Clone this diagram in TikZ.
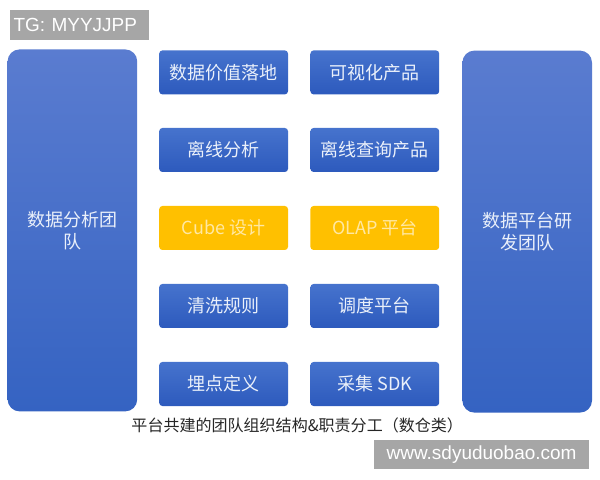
\documentclass[tikz,border=0pt]{standalone}
\usepackage{fontspec}
\setmainfont{Noto Sans CJK SC}
\newfontfamily\wmfont{Liberation Sans}
\usepackage{xcolor}
\definecolor{teamtop}{HTML}{5A7CD0}
\definecolor{teambot}{HTML}{3563C2}
\definecolor{boxtop}{HTML}{4673CD}
\definecolor{boxbot}{HTML}{2D5ABD}
\definecolor{cubeyellow}{HTML}{FFC000}
\definecolor{cubetext}{HTML}{FFE8A3}
\definecolor{boxtext}{HTML}{EAF0FA}
\definecolor{wmgray}{HTML}{A6A6A6}
\definecolor{captext}{HTML}{262626}

\begin{document}
\begin{tikzpicture}[
  team/.style={rectangle, rounded corners=0.3cm, top color=teamtop, bottom color=teambot, draw=none, minimum width=3.24cm, minimum height=9.05cm, text=boxtext, align=center, font=\fontsize{12.8}{15.5}\selectfont},
  task/.style={rectangle, rounded corners=0.08cm, top color=boxtop, bottom color=boxbot, draw=none, minimum width=3.22cm, minimum height=1.1cm, text=boxtext, font=\fontsize{12.8}{15}\selectfont},
  core/.style={rectangle, rounded corners=0.08cm, fill=cubeyellow, draw=none, minimum width=3.22cm, minimum height=1.1cm, text=cubetext, font=\fontsize{12.8}{15}\selectfont},
  wmark/.style={rectangle, fill=wmgray, text=white, inner sep=0pt, font=\wmfont\fontsize{13.5}{15}\selectfont}
]
\useasboundingbox (0,0) rectangle (15,12);
\node[team] (ana) at (1.81,6.24) {数据分析团\\队};
\node[team] (plat) at (13.18,6.21) {数据平台研\\发团队};
\node[task] (value) at (5.59,10.19) {数据价值落地};
\node[task] (vis) at (9.37,10.19) {可视化产品};
\node[task] (offline) at (5.59,8.25) {离线分析};
\node[task] (query) at (9.37,8.25) {离线查询产品};
\node[core] (cube) at (5.59,6.3) {Cube 设计};
\node[core] (olap) at (9.37,6.3) {OLAP 平台};
\node[task] (clean) at (5.59,4.35) {清洗规则};
\node[task] (sched) at (9.37,4.35) {调度平台};
\node[task] (track) at (5.59,2.4) {埋点定义};
\node[task] (sdk) at (9.37,2.4) {采集 SDK};
\node[text=captext, font=\fontsize{11.4}{14}\selectfont] (cap) at (7.43,1.37) {平台共建的团队组织结构\&职责分工（数仓类）};
\node[wmark, minimum width=3.48cm, minimum height=0.75cm, text width=3.3cm, align=left] (tg) at (1.99,11.37) {TG: MYYJJPP};
\node[wmark, minimum width=5.38cm, minimum height=0.73cm] (www) at (12.04,0.64) {www.sdyuduobao.com};
\end{tikzpicture}
\end{document}
